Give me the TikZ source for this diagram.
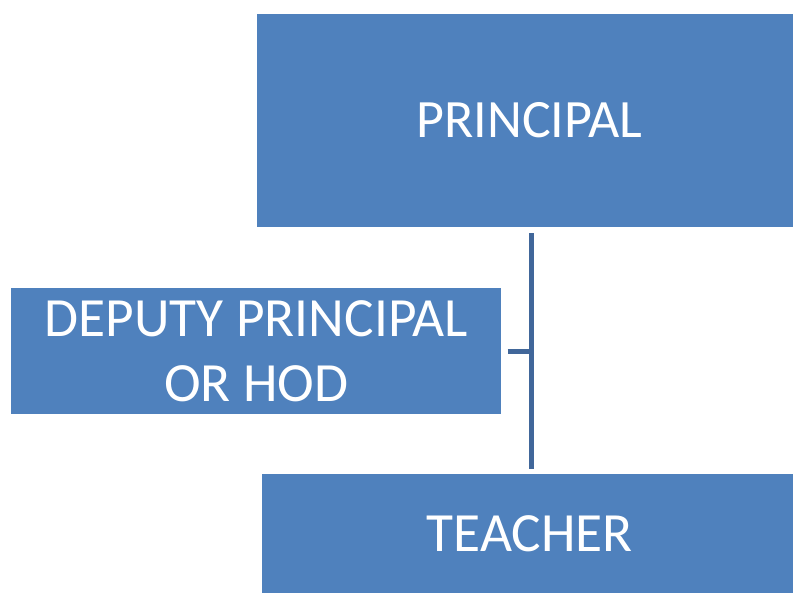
\documentclass[tikz,border=0pt]{standalone}
\usepackage{fontspec}
\setmainfont{Carlito}
\definecolor{boxblue}{HTML}{4F81BD}
\definecolor{linkblue}{HTML}{41679A}
\begin{document}
\begin{tikzpicture}[x=0.75pt,y=-0.75pt,
  box/.style={fill=boxblue,draw=none,inner sep=0pt,anchor=north west,
    text=white,align=center},
  link/.style={draw=linkblue,line width=3.75pt}]
\useasboundingbox (0,0) rectangle (793,593);
% boxes of the chart
\node[box,minimum width=402pt,minimum height=159.75pt,
  font=\fontsize{40.5}{50}\selectfont] (principal) at (257,14)
  {\raisebox{1.5pt}{\hspace*{6pt}PRINCIPAL}};
\node[box,minimum width=367.5pt,minimum height=94.5pt,
  font=\fontsize{41.5}{48.75}\selectfont] (deputy) at (11,288) {DEPUTY PRINCIPAL\\OR HOD};
\node[box,minimum width=398.25pt,minimum height=89.25pt,
  font=\fontsize{41.5}{46}\selectfont] (teacher) at (262,474) {\hspace*{3pt}TEACHER};
% reporting line
\coordinate (top) at (531.5,233);
\coordinate (bot) at (531.5,469);
\draw[link] (top) -- (bot);
\draw[link,shorten <=4.5pt] (deputy.east) -- (deputy.east -| top);
\end{tikzpicture}
\end{document}
